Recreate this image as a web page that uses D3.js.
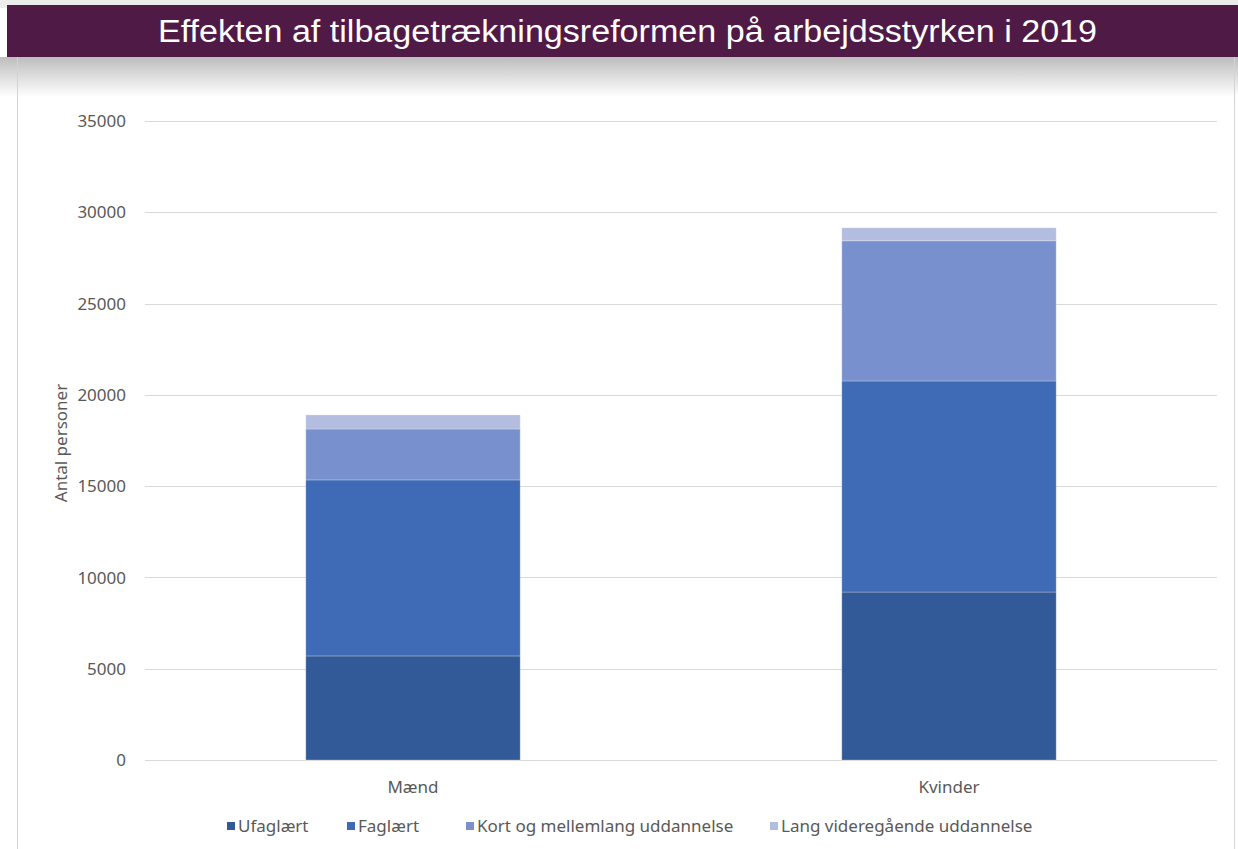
<!DOCTYPE html>
<html>
<head>
<meta charset="utf-8">
<script src="https://cdn.jsdelivr.net/npm/d3@7"></script>
<style>
  body { margin: 0; background: #fff; }
  svg { display: block; }
</style>
</head>
<body>
<div id="chart"></div>
<script>
// data
const categories = ["Mænd", "Kvinder"];
const seriesNames = ["Ufaglært", "Faglært", "Kort og mellemlang uddannelse", "Lang videregående uddannelse"];
const ufaglaert = [5700, 9200];
const faglaert = [9640, 11560];
const kortMellem = [2790, 7680];
const langVideregaaende = [770, 710];
const yTicks = [0, 5000, 10000, 15000, 20000, 25000, 30000, 35000];
const colors = ["#325A98", "#3E6AB6", "#7891CE", "#B2BDDF"];

const W = 1238, H = 849;
const margin = {top: 121, right: 21, bottom: 89, left: 145};
const font = "'Noto Sans', sans-serif";

const svg = d3.select("#chart").append("svg")
    .attr("width", W)
    .attr("height", H);

// title bar + shadow
const defs = svg.append("defs");
const grad = defs.append("linearGradient")
    .attr("id", "shadow").attr("x1", 0).attr("y1", 0).attr("x2", 0).attr("y2", 1);
grad.append("stop").attr("offset", 0).attr("stop-color", "#bdbdbd");
grad.append("stop").attr("offset", 1).attr("stop-color", "#ffffff");

svg.append("rect").attr("x", 0).attr("y", 57).attr("width", W).attr("height", 40)
    .attr("fill", "url(#shadow)");
svg.append("rect").attr("x", 0).attr("y", 0).attr("width", W).attr("height", 8)
    .attr("fill", "#ececec");

// panel borders
svg.append("line").attr("x1", 17.5).attr("x2", 17.5).attr("y1", 57).attr("y2", H)
    .attr("stroke", "#d4d4d4");
svg.append("line").attr("x1", 1234.5).attr("x2", 1234.5).attr("y1", 57).attr("y2", H)
    .attr("stroke", "#d4d4d4");

svg.append("rect").attr("x", 7).attr("y", 5).attr("width", W - 7).attr("height", 52)
    .attr("fill", "#501A47");
svg.append("text")
    .attr("x", 158).attr("y", 42)
    .attr("textLength", 939)
    .attr("lengthAdjust", "spacingAndGlyphs")
    .attr("fill", "#fff")
    .style("font-family", "'Liberation Sans', Arial, sans-serif")
    .style("font-size", "31px")
    .text("Effekten af tilbagetrækningsreformen på arbejdsstyrken i 2019");

const width = W - margin.left - margin.right;
const height = H - margin.top - margin.bottom;

const g = svg.append("g").attr("transform", `translate(${margin.left},${margin.top})`);

const x = d3.scaleBand().domain(categories).range([0, width]).paddingInner(0).paddingOuter(0);
const y = d3.scaleLinear().domain([0, 35000]).range([height, 0]);

// gridlines
g.selectAll(".grid").data(yTicks).join("line")
    .attr("x1", 0).attr("x2", width)
    .attr("y1", d => Math.round(y(d)) + 0.5).attr("y2", d => Math.round(y(d)) + 0.5)
    .attr("stroke", "#d9d9d9").attr("stroke-width", 1);

// y tick labels
g.selectAll(".ylab").data(yTicks).join("text")
    .attr("x", -19).attr("y", d => y(d)).attr("dy", "0.36em")
    .attr("text-anchor", "end")
    .attr("fill", "#595959")
    .style("font-family", font)
    .style("font-size", "17px")
    .text(d => d);

// y axis title
svg.append("text")
    .attr("transform", `translate(67,443) rotate(-90)`)
    .attr("text-anchor", "middle")
    .attr("fill", "#595959")
    .style("font-family", font)
    .style("font-size", "17px")
    .text("Antal personer");

// x labels
g.selectAll(".xlab").data(categories).join("text")
    .attr("x", d => x(d) + x.bandwidth() / 2)
    .attr("y", height + 33)
    .attr("text-anchor", "middle")
    .attr("fill", "#595959")
    .style("font-family", font)
    .style("font-size", "17px")
    .text(d => d);

// stacked bars
const rows = categories.map((c, i) => ({
    cat: c,
    [seriesNames[0]]: ufaglaert[i],
    [seriesNames[1]]: faglaert[i],
    [seriesNames[2]]: kortMellem[i],
    [seriesNames[3]]: langVideregaaende[i]
}));
const stacked = d3.stack().keys(seriesNames)(rows);
const barW = x.bandwidth() * 0.4;

g.selectAll(".layer").data(stacked).join("g")
    .attr("fill", (d, i) => colors[i])
    .selectAll("rect").data(d => d).join("rect")
    .attr("x", d => x(d.data.cat) + (x.bandwidth() - barW) / 2)
    .attr("width", barW)
    .attr("y", d => y(d[1]))
    .attr("height", d => y(d[0]) - y(d[1]))
    .attr("stroke", "rgba(255,255,255,0.25)")
    .attr("stroke-width", 1);

// legend
const legendX = [227, 347, 466, 770];
const legend = svg.append("g").attr("transform", "translate(0,826)");
const items = legend.selectAll("g").data(seriesNames).join("g")
    .attr("transform", (d, i) => `translate(${legendX[i]},0)`);
items.append("rect").attr("x", 0).attr("y", -4).attr("width", 8).attr("height", 8)
    .attr("fill", (d, i) => colors[i]);
items.append("text").attr("x", 11).attr("y", 0).attr("dy", "0.36em")
    .attr("fill", "#595959")
    .style("font-family", font)
    .style("font-size", "17px")
    .text(d => d);
</script>
</body>
</html>
